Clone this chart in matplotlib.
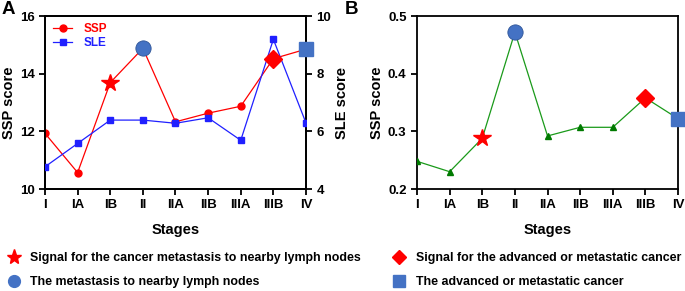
import numpy as np
import matplotlib
matplotlib.use('Agg')
import matplotlib.pyplot as plt
from matplotlib.lines import Line2D

plt.rcParams['font.family'] = ['Liberation Sans', 'DejaVu Sans']
plt.rcParams['font.weight'] = 'bold'

stages = ['I', 'IA', 'IB', 'II', 'IIA', 'IIB', 'IIIA', 'IIIB', 'IV']
ssp = [11.93, 10.57, 13.69, 14.88, 12.33, 12.63, 12.87, 14.52, 14.85]
sle = [4.77, 5.58, 6.39, 6.39, 6.28, 6.47, 5.69, 9.19, 6.29]
ssp_b = [0.248, 0.230, 0.288, 0.472, 0.292, 0.307, 0.307, 0.358, 0.322]

legend_labels = ['Signal for the cancer metastasis to nearby lymph nodes',
                 'The metastasis to nearby lymph nodes',
                 'Signal for the advanced or metastatic cancer',
                 'The advanced or metastatic cancer']

mblue = '#4472c4'
x = np.arange(len(stages))
W, H = 685, 291

fig = plt.figure(figsize=(6.85, 2.91), dpi=100)

def style_ax(ax):
    for s in ax.spines.values():
        s.set_linewidth(1.3)
    ax.tick_params(width=1.3, length=4, labelsize=9.5)
    ax.set_xlim(0, len(stages) - 1)
    ax.set_xticks(x)
    ax.set_xticklabels(stages, fontweight='bold')
    ax.set_xlabel('Stages', fontsize=10.5, fontweight='bold', labelpad=8)

# panel A
ax = fig.add_axes([0.0657, 0.3505, 0.381, 0.5945])
ax2 = ax.twinx()
style_ax(ax)
ax.plot(x, ssp, color='red', lw=0.9, marker='o', ms=5, label='SSP', zorder=3)
ax2.plot(x, sle, color='#2020ff', lw=0.9, marker='s', ms=5, label='SLE', zorder=3)
ax.set_ylim(10, 16)
ax.set_yticks([10, 12, 14, 16])
ax2.set_ylim(4, 10)
ax2.set_yticks([4, 6, 8, 10])
ax2.tick_params(width=1.3, length=4, labelsize=9.5)
for s in ax2.spines.values():
    s.set_linewidth(1.3)
ax.set_ylabel('SSP score', fontsize=10.5, fontweight='bold', labelpad=3)
ax2.set_ylabel('SLE score', fontsize=10.5, fontweight='bold', labelpad=3)
for lab in ax.get_yticklabels() + ax2.get_yticklabels():
    lab.set_fontweight('bold')

ax2.plot(x[2], ssp[2] - 6, marker='*', color='red', ms=13, ls='none', zorder=5)
ax2.plot(x[3], ssp[3] - 6, marker='o', color=mblue, mec='#2f5597', mew=0.6, ms=11, ls='none', zorder=5)
ax2.plot(x[7], ssp[7] - 6, marker='D', color='red', ms=9, ls='none', zorder=5)
ax2.plot(x[8], ssp[8] - 6, marker='s', color=mblue, ms=10, ls='none', zorder=5, clip_on=False)

h1, l1 = ax.get_legend_handles_labels()
h2, l2 = ax2.get_legend_handles_labels()
leg = ax2.legend(h1 + h2, l1 + l2, loc='upper left', frameon=False, fontsize=8.5,
                 handlelength=1.6, handletextpad=1.0, labelspacing=0.2,
                 borderaxespad=0.2, bbox_to_anchor=(0.005, 1.0))
for t, c in zip(leg.get_texts(), ['red', '#2020ff']):
    t.set_color(c)
    t.set_fontweight('bold')

# panel B
bx = fig.add_axes([0.6088, 0.3505, 0.381, 0.5945])
style_ax(bx)
bx.plot(x, ssp_b, color='#1a9a1a', lw=0.9, marker='^', ms=5, mfc='#007a00', mec='#007a00', zorder=3)
bx.set_ylim(0.2, 0.5)
bx.set_yticks([0.2, 0.3, 0.4, 0.5])
bx.set_ylabel('SSP score', fontsize=10.5, fontweight='bold', labelpad=3)
for lab in bx.get_yticklabels():
    lab.set_fontweight('bold')
bx.plot(x[2], ssp_b[2], marker='*', color='red', ms=13, ls='none', zorder=5)
bx.plot(x[3], ssp_b[3], marker='o', color=mblue, mec='#2f5597', mew=0.6, ms=11, ls='none', zorder=5)
bx.plot(x[7], ssp_b[7], marker='D', color='red', ms=9, ls='none', zorder=5)
bx.plot(x[8], ssp_b[8], marker='s', color=mblue, ms=10, ls='none', zorder=5, clip_on=False)

fig.text(8 / W, 1 - 10 / H, 'A', fontsize=13.5, fontweight='bold', ha='center', va='center')
fig.text(351 / W, 1 - 10 / H, 'B', fontsize=13.5, fontweight='bold', ha='center', va='center')

# bottom legend
handles = [Line2D([], [], marker='*', color='red', ls='none', ms=11),
           Line2D([], [], marker='o', color=mblue, ls='none', ms=8.5),
           Line2D([], [], marker='D', color='red', ls='none', ms=7.5),
           Line2D([], [], marker='s', color=mblue, ls='none', ms=8.5)]
pos = [(0.012, 1 - 258 / H), (0.012, 1 - 282 / H),
       (0.575, 1 - 258 / H), (0.575, 1 - 282 / H)]
for hd, lab, (px, py) in zip(handles, legend_labels, pos):
    fig.legend([hd], [lab], loc='center left', bbox_to_anchor=(px, py), frameon=False,
               fontsize=8.9, handlelength=0.9, handletextpad=0.9, borderaxespad=0,
               borderpad=0)

fig.savefig('out.png', dpi=100)
